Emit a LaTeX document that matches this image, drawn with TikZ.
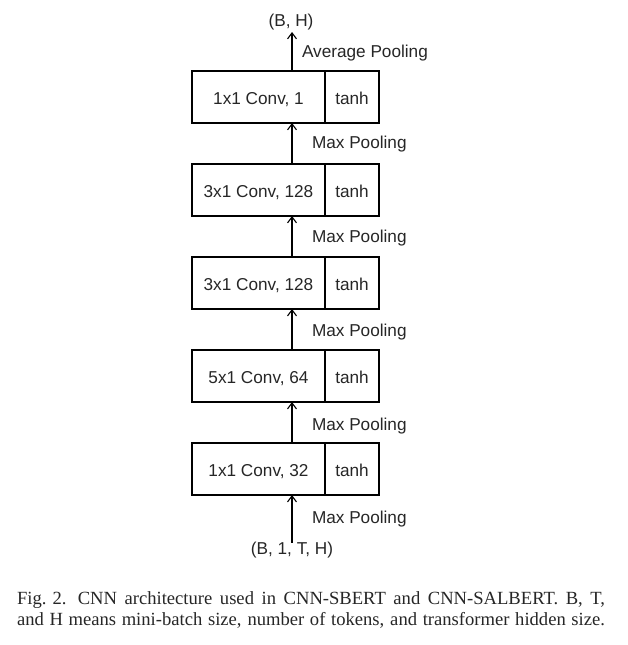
\documentclass[tikz,border=0pt]{standalone}
\usepackage{fontspec}
\setmainfont{Liberation Serif}
\newfontfamily\arialfont{Liberation Sans}
\usetikzlibrary{arrows.meta}
\begin{document}
\begin{tikzpicture}[x=1pt,y=-1pt,
  every node/.style={inner sep=0pt,outer sep=0pt},
  lbl/.style={font=\arialfont\fontsize{17.2}{20}\selectfont, text=black!85},
  convbox/.style={draw, line width=1.1pt, minimum width=133pt, minimum height=52pt, anchor=north west, lbl, text height=16pt, text depth=2pt},
  actbox/.style={draw, line width=1.1pt, minimum width=54pt, minimum height=52pt, anchor=north west, lbl, text height=16pt, text depth=2pt},
  flow/.style={line width=1.1pt, -{Straight Barb[length=6pt,width=9pt,line width=1.1pt]}},
  poollbl/.style={lbl, anchor=west},
  capline/.style={anchor=base west, font=\fontsize{18.6}{22}\selectfont, text=black!85}
]
\useasboundingbox (0,0) rectangle (627,645);
\coordinate (ax) at (292,0);
\foreach \i/\t/\c in {1/71/{1x1 Conv, 1},2/164/{3x1 Conv, 128},3/257/{3x1 Conv, 128},4/350/{5x1 Conv, 64},5/443/{1x1 Conv, 32}}{
  \node[convbox] (conv\i) at (192,\t) {\c};
  \node[actbox] (act\i) at (325,\t) {tanh};
}
\node[lbl, anchor=base] (out) at (291,26) {(B, H)};
\coordinate (outtip) at (292,32);
\node[lbl, anchor=base] (in) at (292,554) {(B, 1, T, H)};
\draw[flow] ([yshift=-1pt]in.north -| ax) -- (conv5.south -| ax);
\draw[flow] (conv5.north -| ax) -- (conv4.south -| ax);
\draw[flow] (conv4.north -| ax) -- (conv3.south -| ax);
\draw[flow] (conv3.north -| ax) -- (conv2.south -| ax);
\draw[flow] (conv2.north -| ax) -- (conv1.south -| ax);
\draw[flow] (conv1.north -| ax) -- (outtip);
\node[poollbl] (avg) at (302,53) {Average Pooling};
\node[poollbl] (mp1) at (312,144) {Max Pooling};
\node[poollbl] (mp2) at (312,238) {Max Pooling};
\node[poollbl] (mp3) at (312,332) {Max Pooling};
\node[poollbl] (mp4) at (312,426) {Max Pooling};
\node[poollbl] (mp5) at (312,519) {Max Pooling};
\node[capline] (cap1) at (17,604) {\hbox to 588pt{\mbox{Fig. 2.}\hskip 0.6em CNN architecture used in CNN-SBERT and CNN-SALBERT. B, T,}};
\node[capline] (cap2) at (17,625) {\hbox to 588pt{and H means mini-batch size, number of tokens, and transformer hidden size.}};
\end{tikzpicture}
\end{document}
